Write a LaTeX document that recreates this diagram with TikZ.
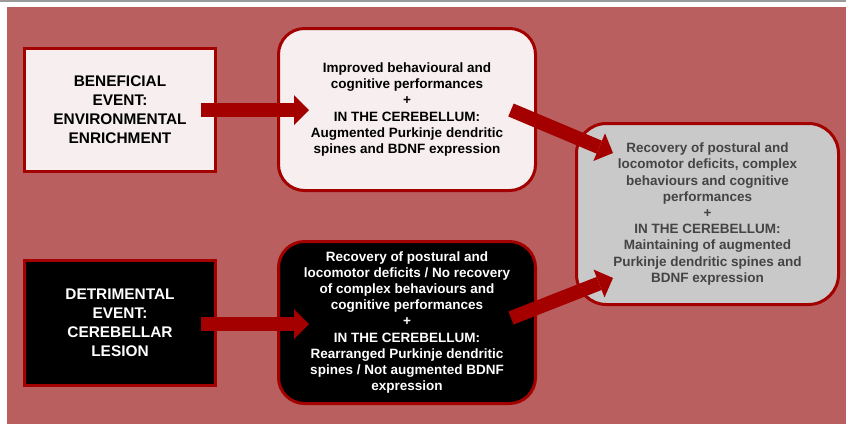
\documentclass[tikz,border=0pt]{standalone}
\usepackage{fontspec}
\setmainfont{Liberation Sans}
\usetikzlibrary{arrows.meta}
\definecolor{bg}{HTML}{B95F5F}
\definecolor{bordred}{HTML}{A30000}
\definecolor{arrred}{HTML}{A50000}
\definecolor{lightbox}{HTML}{F7EFEF}
\definecolor{graybox}{HTML}{C9C9C9}
\definecolor{graytext}{HTML}{444444}
\definecolor{topline}{HTML}{9A9A9A}
\tikzset{
  eventbox/.style={draw=bordred, line width=3pt, align=center, inner sep=2pt,
    font=\fontsize{15.4}{19}\selectfont\bfseries},
  outbox/.style={draw=bordred, line width=3pt, rounded corners=26pt, align=center, inner sep=2pt,
    font=\fontsize{13.5}{16.2}\selectfont\bfseries},
  bigarrow/.style={draw=arrred, line width=14pt,
    -{Triangle[width=30pt,length=15pt,line width=0pt]}}
}
\begin{document}
\begin{tikzpicture}[x=1pt,y=-1pt]
\useasboundingbox (0,0) rectangle (846,424);
\fill[white] (0,0) rectangle (846,424);
\fill[bg] (7,7) rectangle (846,424);
\draw[topline, line width=1.5pt] (0,0.75) -- (846,0.75);

\node[eventbox, fill=lightbox, text=black, minimum width=191pt, minimum height=123pt] (ben) at (120,110)
  {BENEFICIAL\\EVENT:\\ENVIRONMENTAL\\ENRICHMENT};
\node[eventbox, fill=black, text=white, minimum width=191pt, minimum height=125pt] (det) at (120,323)
  {DETRIMENTAL\\EVENT:\\CEREBELLAR\\LESION};
\node[outbox, fill=lightbox, text=black, minimum width=257pt, minimum height=162pt] (imp) at (407,109.5)
  {Improved behavioural and\\cognitive performances\\+\\IN THE CEREBELLUM:\\Augmented Purkinje dendritic\\spines and BDNF expression};
\node[outbox, fill=black, text=white, minimum width=257pt, minimum height=162pt] (rea) at (407,322.5)
  {Recovery of postural and\\locomotor deficits / No recovery\\of complex behaviours and\\cognitive performances\\+\\IN THE CEREBELLUM:\\Rearranged Purkinje dendritic\\spines / Not augmented BDNF\\expression};
\node[outbox, rounded corners=30pt, fill=graybox, text=graytext, minimum width=262pt, minimum height=181pt] (rec) at (707.5,214)
  {Recovery of postural and\\locomotor deficits, complex\\behaviours and cognitive\\performances\\+\\IN THE CEREBELLUM:\\Maintaining of augmented\\Purkinje dendritic spines and\\BDNF expression};

\coordinate (a1s) at ([xshift=-16pt]ben.east |- 0,110);
\coordinate (a1e) at ([xshift=32pt]imp.west |- 0,110);
\coordinate (a2s) at ([xshift=-16pt]det.east |- 0,324);
\coordinate (a2e) at ([xshift=32pt]rea.west |- 0,324);
\coordinate (a3s) at (511,110);
\coordinate (a3e) at (613,153);
\coordinate (a4s) at (511,318);
\coordinate (a4e) at (613,278);

\draw[bigarrow] (a1s) -- (a1e);
\draw[bigarrow] (a2s) -- (a2e);
\draw[bigarrow] (a3s) -- (a3e);
\draw[bigarrow] (a4s) -- (a4e);
\end{tikzpicture}
\end{document}
